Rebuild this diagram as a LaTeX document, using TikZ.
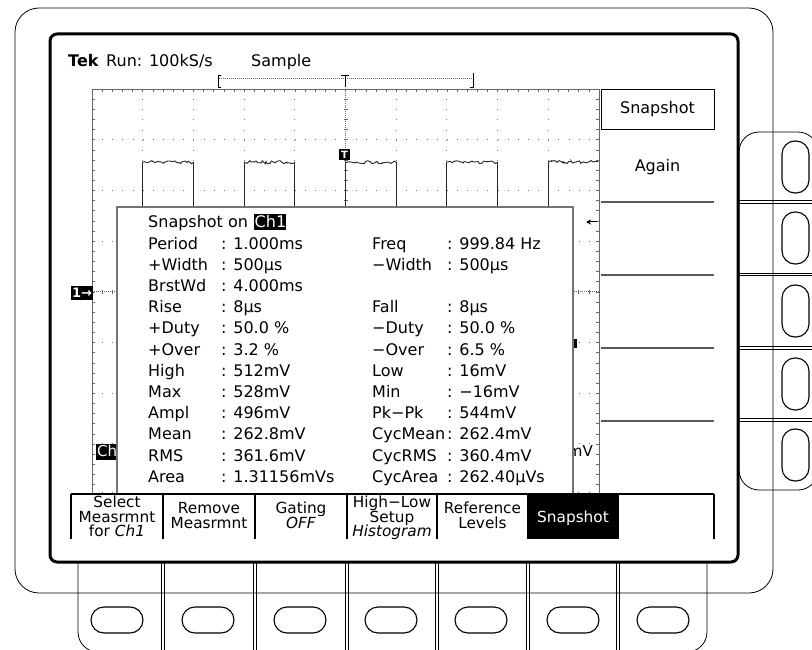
\documentclass[tikz,border=0pt]{standalone}
\usepackage{fontspec}
\setmainfont{DejaVu Sans}
\usetikzlibrary{decorations.pathmorphing,arrows.meta}
\begin{document}
\begin{tikzpicture}[x=1pt,y=-1pt,
  bez/.style={line width=0.8pt,draw=black},
  knob/.style={draw=black,line width=1.1pt,rounded corners=13pt,inner sep=0pt},
  tk/.style={line width=0.5pt,draw=black!60},
  gridl/.style={line width=0.9pt,draw=black!55,dash pattern=on 0.9pt off 9.24pt},
  cgrid/.style={line width=0.7pt,draw=black!60,dash pattern=on 0.8pt off 1.2pt},
  wave/.style={line width=0.9pt,draw=black!85},
  noisy/.style={decorate,decoration={random steps,segment length=2pt,amplitude=1.5pt}},
  tx/.style={inner sep=0pt,font=\fontsize{16}{19}\selectfont,anchor=base west},
  mt/.style={inner sep=0pt,font=\fontsize{15.3}{16}\selectfont,anchor=base},
  mline/.style={line width=1.3pt,draw=black},
  rsep/.style={line width=1.2pt,draw=black!65},
]
\useasboundingbox (0,0) rectangle (812,650);
\pgfmathsetseed{7}
\begin{scope}
\clip (0,0) rectangle (812,650);
% outer bezel
\draw[bez,rounded corners=24pt] (15,8) rectangle (773,593);
% right button panel
\draw[bez,rounded corners=20pt] (739,132) rectangle (818,490);
\foreach \y in {202,274.5,348,420}{
  \draw[bez] (739,\y-1.3) -- (812,\y-1.3);
  \draw[bez] (739,\y+1.3) -- (812,\y+1.3);}
% bottom button panel
\draw[bez,rounded corners=20pt] (78,540) rectangle (707,652);
\foreach \x in {163,255,347,437,528,618}{
  \draw[bez] (\x-1.3,560) -- (\x-1.3,652);
  \draw[bez] (\x+1.3,560) -- (\x+1.3,652);}
\end{scope}
% knobs
\foreach \yc [count=\i] in {167,238,311,384,455}
  \node[knob,minimum width=27pt,minimum height=52pt] (rk\i) at (795.5,\yc) {};
\foreach \xc [count=\i] in {117,208,300,391,481,573,663}
  \node[knob,minimum width=52pt,minimum height=26pt] (bk\i) at (\xc,620) {};
% screen
\draw[line width=3pt,fill=white,rounded corners=7pt] (50,34) rectangle (738,562);
% header
\node[tx,font=\fontsize{16}{19}\selectfont\bfseries] (tek) at (68,67) {Tek};
\node[tx] (run) at (106,67) {Run: 100kS/s};
\node[tx] (smp) at (251,67) {Sample};
% record bar
\draw[cgrid] (219,78) -- (472,78);
\draw[line width=0.8pt] (221,75) -- (218,75) -- (218,87) -- (221,87);
\draw[line width=0.8pt] (470,87) -- (473,87) -- (473,73);
\draw[line width=0.9pt] (341,75) -- (349,75) (345,75) -- (345,87);
% graticule
\foreach \i in {1,2,3,4,6,7,8,9} \draw[gridl] ({92+50.7*\i},89) -- ({92+50.7*\i},494.6);
\foreach \j in {1,2,3,5,6,7} \draw[gridl] (92,{89+50.7*\j}) -- (599,{89+50.7*\j});
\draw[cgrid] (345.5,89) -- (345.5,494.6);
\draw[cgrid] (92,291.8) -- (599,291.8);
\foreach \k in {1,...,49}{
  \draw[tk] ({92+10.14*\k},89) -- ++(0,3);
  \draw[tk] ({92+10.14*\k},494.6) -- ++(0,-3);
  \draw[tk] ({92+10.14*\k},289.8) -- ++(0,4);}
\foreach \k in {1,...,39}{
  \draw[tk] (92,{89+10.14*\k}) -- ++(3,0);
  \draw[tk] (599,{89+10.14*\k}) -- ++(-3,0);
  \draw[tk] (343.5,{89+10.14*\k}) -- ++(4,0);}
\draw[line width=0.8pt,draw=black!60] (92,89) rectangle (599,494.6);
% waveform
\foreach \x in {142.7,244.1,345.5,446.9}{
  \draw[wave] (\x,207) -- (\x,162);
  \draw[wave,noisy] (\x,162) -- (\x+50.7,162.5);
  \draw[wave] (\x+50.7,162.5) -- (\x+50.7,207);}
\draw[wave] (548.3,207) -- (548.3,162);
\draw[wave,noisy] (548.3,162) -- (598,162);
% trigger marker
\fill[black] (339,149) rectangle (350,160.5);
\node[inner sep=0pt,text=white,font=\fontsize{10}{10}\selectfont\bfseries] (tm) at (344.5,155) {T};
% ground marker
\fill[black] (71,286) rectangle (93,300);
\node[inner sep=0pt,text=white,font=\fontsize{13}{13}\selectfont\bfseries] (gm) at (82,293) {1→};
% trigger level arrow
\draw[line width=1pt,-{Stealth[length=5pt,width=5pt]}] (597,222) -- (586,222);
% channel readout (mostly hidden)
\fill[black] (96,444) rectangle (126,459.5);
\node[inner sep=0pt,anchor=base west,text=white,font=\fontsize{15}{15}\selectfont] (chr) at (97,456.5) {Ch1};
\node[inner sep=0pt,anchor=base east,font=\fontsize{15}{15}\selectfont] (mvr) at (593,456.5) {mV};
\fill[black] (574,339) rectangle (576.5,348);
% snapshot box
\draw[line width=1.8pt,draw=black!55,fill=white] (117,207) rectangle (573,494);
\node[tx] (sh) at (148,228) {Snapshot on};
\fill[black] (254,214.5) rectangle (285.5,230.5);
\node[tx,text=white] (shc) at (254.5,228) {Ch1};
\foreach \la/\va [count=\i from 0] in {Period/1.000ms,+Width/500µs,BrstWd/4.000ms,Rise/8µs,+Duty/50.0 \%,+Over/3.2 \%,High/512mV,Max/528mV,Ampl/496mV,Mean/262.8mV,RMS/361.6mV,Area/1.31156mVs}{
  \node[tx] (la\i) at (148,{249+21.2*\i}) {\la};
  \node[tx] (va\i) at (221,{249+21.2*\i}) {: \va};}
\foreach \i/\lb/\vb in {0/Freq/999.84 Hz,1/−Width/500µs,3/Fall/8µs,4/−Duty/50.0 \%,5/−Over/6.5 \%,6/Low/16mV,7/Min/−16mV,8/Pk−Pk/544mV,9/CycMean/262.4mV,10/CycRMS/360.4mV,11/CycArea/262.40µVs}{
  \node[tx] (lb\i) at (372,{249+21.2*\i}) {\lb};
  \node[tx] (vb\i) at (447,{249+21.2*\i}) {: \vb};}
% right menu
\draw[line width=0.8pt] (601,89) rectangle (714,129);
\node[tx,anchor=base] (rm1) at (657.5,114) {Snapshot};
\node[tx,anchor=base] (rm2) at (657.5,172) {Again};
\foreach \y in {202,275,348,421} \draw[rsep] (601,\y) -- (714,\y);
% bottom menu
\fill[black] (528,494) rectangle (618,539);
\draw[mline] (71,494) -- (714,494);
\foreach \x in {71,163,255,347,437,528,618,714} \draw[mline] (\x,494) -- (\x,539);
\node[mt] (m1a) at (117,507) {Select};
\node[mt] (m1b) at (117,522) {Measrmnt};
\node[mt] (m1c) at (117,536) {for \textit{Ch1}};
\node[mt] (m2a) at (209,513) {Remove};
\node[mt] (m2b) at (209,528) {Measrmnt};
\node[mt] (m3a) at (301,513) {Gating};
\node[mt] (m3b) at (301,528) {\textit{OFF}};
\node[mt] (m4a) at (392,507) {High−Low};
\node[mt] (m4b) at (392,522) {Setup};
\node[mt] (m4c) at (392,536) {\textit{Histogram}};
\node[mt] (m5a) at (482.5,513) {Reference};
\node[mt] (m5b) at (482.5,528) {Levels};
\node[mt,text=white] (m6a) at (573,522) {Snapshot};
\end{tikzpicture}
\end{document}
